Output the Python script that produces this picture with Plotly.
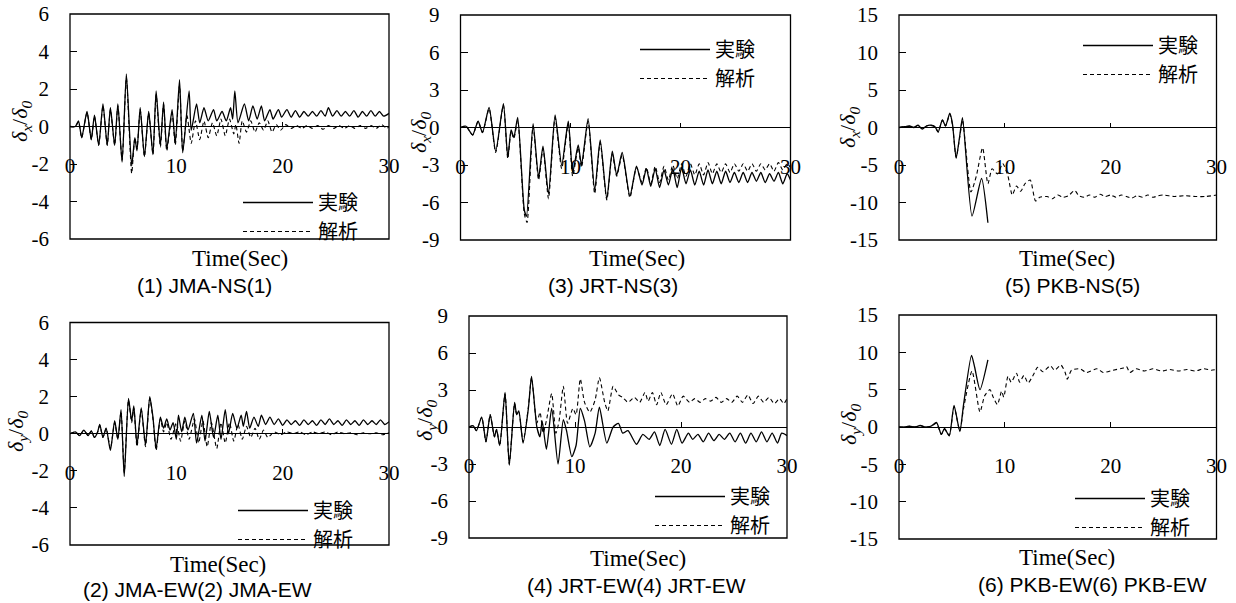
import plotly.graph_objects as go

W, H = 1236, 603

# ---------------- data (time in s, normalized displacement) ----------------
# (1) JMA-NS  δx/δ0
jma_ns_exp_t = [0, 0.5, 0.8, 1.1, 1.6, 2.0, 2.3, 2.7, 3.1, 3.5, 3.8, 4.2, 4.5, 4.9, 5.3, 5.8, 6.1, 6.3, 6.6, 7.0,
                7.4, 7.8, 8.1, 8.5, 8.8, 9.1, 9.6, 9.9, 10.3, 10.6, 11.2, 11.4, 11.9, 12.2, 12.6, 13.0, 13.5, 13.8,
                14.3, 14.7, 15.1, 15.3, 15.5, 15.8, 16.4, 16.8, 17.2, 17.6, 18.0, 18.3, 18.8, 19.1, 19.6, 19.9,
                20.4, 20.8, 21.2, 21.6, 22.0, 22.4, 22.8, 23.2, 23.6, 24.0, 24.3, 24.7, 25.1, 25.5, 25.9, 26.3,
                26.7, 27.1, 27.5, 27.9, 28.3, 28.7, 29.1, 29.5, 30.0]
jma_ns_exp_v = [0, 0.0, 0.3, -0.6, 0.8, -0.7, 0.6, -1.0, 1.2, -1.0, 1.0, -1.0, 1.2, -1.9, 2.8, -2.1, -0.6, -1.3, 1.0, -1.6,
                0.8, -1.5, 1.9, -1.0, 1.3, -1.2, 0.9, -0.9, 2.5, -1.4, 1.9, -0.2, 1.2, 0.2, 1.0, 0.3, 0.9, 0.3,
                0.8, 0.3, 1.0, 0.4, 1.9, 0.2, 1.2, 0.3, 1.1, 0.4, 1.1, 0.3, 0.9, 0.4, 0.9, 0.5,
                0.9, 0.5, 0.85, 0.5, 0.8, 0.55, 0.8, 0.55, 0.85, 0.55, 1.0, 0.55, 0.85, 0.55, 0.8, 0.55,
                0.85, 0.5, 0.8, 0.55, 0.85, 0.55, 0.8, 0.55, 0.7]
jma_ns_ana_t = [0, 0.5, 0.8, 1.1, 1.6, 2.0, 2.3, 2.7, 3.1, 3.5, 3.8, 4.2, 4.5, 4.9, 5.3, 5.8, 6.1, 6.3, 6.6, 7.0,
                7.4, 7.8, 8.1, 8.5, 8.8, 9.1, 9.6, 9.9, 10.3, 10.6, 11.0, 11.4, 11.8, 12.2, 12.6, 13.0, 13.4, 13.8,
                14.2, 14.6, 15.0, 15.4, 15.6, 15.9, 16.2, 16.6, 17.0, 17.4, 17.8, 18.2, 18.6, 19.0, 19.4, 19.8,
                20.3, 20.8, 21.3, 21.8, 22.3, 22.8, 23.3, 23.8, 24.3, 24.8, 25.3, 25.8, 26.3, 26.8, 27.3, 27.8,
                28.3, 28.8, 29.3, 29.8, 30.0]
jma_ns_ana_v = [0, 0.0, 0.25, -0.6, 0.75, -0.7, 0.55, -1.0, 1.1, -1.0, 0.9, -1.0, 1.1, -1.8, 2.6, -2.5, -0.6, -1.2, 0.9, -1.6,
                0.7, -1.5, 1.7, -1.1, 1.2, -1.3, 0.7, -1.0, 2.2, -1.3, 0.6, -0.9, 0.3, -0.7, 0.3, -0.6, 0.2, -0.5,
                0.4, -0.5, 0.4, -0.4, 0.1, -0.9, 0.3, -0.3, 0.3, -0.3, 0.2, -0.2, 0.3, -0.3, 0.1, -0.2,
                0.1, -0.1, 0.05, -0.1, 0.05, -0.1, 0.05, -0.15, 0.05, -0.1, 0.05, -0.1, 0.05, -0.1, 0.05, -0.1,
                0.05, -0.1, 0.1, -0.1, 0.0]

# (2) JMA-EW  δy/δ0
jma_ew_exp_t = [0, 0.5, 0.9, 1.3, 1.7, 2.0, 2.3, 2.6, 2.8, 3.1, 3.4, 3.8, 4.2, 4.5, 4.8, 5.1, 5.5, 5.8, 6.0, 6.3,
                6.7, 7.1, 7.5, 7.8, 8.1, 8.5, 8.8, 9.1, 9.4, 9.7, 10.0, 10.2, 10.5, 10.8, 11.1, 11.6, 11.9, 12.4,
                12.7, 13.1, 13.5, 13.9, 14.2, 14.6, 14.9, 15.3, 15.7, 16.1, 16.3, 16.6, 16.9, 17.3, 17.7, 18.0,
                18.4, 18.8, 19.2, 19.6, 20.0, 20.4, 20.8, 21.2, 21.6, 22.0, 22.4, 22.8, 23.2, 23.6, 24.0, 24.4,
                24.8, 25.2, 25.6, 26.0, 26.4, 26.8, 27.2, 27.6, 28.0, 28.4, 28.8, 29.2, 29.6, 30.0]
jma_ew_exp_v = [0, 0.1, -0.1, 0.2, -0.1, 0.15, -0.2, 0.1, 0.5, -0.2, 0.3, -0.9, 0.7, -0.3, 1.3, -2.3, 1.9, 0.7, 1.5, -0.6,
                1.4, -0.6, 2.0, 0.9, -0.8, 0.9, 0.3, 0.8, 0.2, 0.6, -0.3, 1.0, 0.1, 0.9, 0.2, 1.1, -0.5, 1.0,
                -0.4, 1.2, -0.2, 1.0, -0.3, 1.3, 0.0, 1.1, 0.3, 1.0, 0.4, 1.2, 0.3, 0.9, 0.4, 1.0,
                0.5, 0.9, 0.5, 0.8, 0.45, 0.75, 0.5, 0.7, 0.45, 0.75, 0.5, 0.7, 0.45, 0.75, 0.5, 0.8,
                0.5, 0.7, 0.45, 0.75, 0.5, 0.7, 0.45, 0.75, 0.5, 0.7, 0.5, 0.75, 0.5, 0.65]
jma_ew_ana_t = [0, 0.5, 0.9, 1.3, 1.7, 2.0, 2.3, 2.6, 2.8, 3.1, 3.4, 3.8, 4.2, 4.5, 4.8, 5.1, 5.5, 5.8, 6.0, 6.3,
                6.7, 7.1, 7.5, 7.8, 8.1, 8.5, 8.8, 9.1, 9.5, 10.0, 10.4, 10.8, 11.2, 11.7, 12.1, 12.5, 12.9, 13.3,
                13.8, 14.2, 14.6, 15.0, 15.4, 15.8, 16.2, 16.6, 17.0, 17.4, 17.8, 18.2, 18.6, 19.2, 19.8, 20.4,
                21.0, 21.6, 22.2, 22.8, 23.4, 24.0, 24.6, 25.2, 25.8, 26.4, 27.0, 27.6, 28.2, 28.8, 29.4, 30.0]
jma_ew_ana_v = [0, 0.1, -0.1, 0.2, -0.1, 0.15, -0.2, 0.1, 0.45, -0.2, 0.3, -0.8, 0.6, -0.3, 1.2, -2.1, 1.8, 0.6, 1.4, -0.7,
                1.3, -0.7, 1.9, 0.8, -0.9, 0.8, 0.1, 0.6, -0.3, 0.6, -0.4, 0.7, -0.3, 0.8, -0.5, 0.7, -0.7, 0.6,
                -0.8, 0.6, -0.5, 0.6, -0.4, 0.5, -0.3, 0.4, -0.2, 0.3, -0.3, 0.2, -0.2, 0.1, -0.05, 0.1,
                0.0, 0.1, -0.05, 0.1, 0.0, 0.1, -0.05, 0.1, 0.0, 0.05, -0.05, 0.05, 0.0, 0.05, -0.05, 0.05]

# (3) JRT-NS  δx/δ0
jrt_ns_exp_t = [0, 0.5, 1.1, 1.6, 2.0, 2.6, 3.2, 3.9, 4.3, 4.6, 4.85, 5.2, 5.8, 6.0, 6.6, 7.1, 7.5, 8.0, 8.6, 9.2,
                9.8, 10.2, 10.7, 11.0, 11.6, 12.2, 12.7, 13.3, 13.8, 14.2, 14.7, 15.4, 16.0, 16.5, 16.9, 17.3, 17.7,
                18.1, 18.5, 18.9, 19.3, 19.7, 20.1, 20.5, 20.9, 21.3, 21.7, 22.1, 22.5, 22.9, 23.3, 23.7, 24.1,
                24.5, 24.9, 25.3, 25.7, 26.1, 26.5, 26.9, 27.3, 27.7, 28.1, 28.5, 28.9, 29.3, 29.7, 30.0]
jrt_ns_exp_v = [0, 0.1, -0.6, 0.5, -0.4, 1.6, -1.9, 1.9, -2.4, -0.2, -0.8, 0.8, -6.6, -7.1, 0.3, -4.0, -1.5, -5.3, 1.0, -3.0,
                0.5, -3.6, -1.4, -3.0, 0.7, -5.0, -1.0, -5.7, -1.9, -3.8, -2.0, -5.5, -3.1, -4.6, -3.3, -4.7, -3.3,
                -4.8, -3.4, -4.6, -3.3, -4.8, -3.2, -4.5, -3.4, -4.6, -3.5, -4.6, -3.4, -4.5, -3.5, -4.5, -3.5,
                -4.4, -3.6, -4.4, -3.6, -4.4, -3.6, -4.3, -3.6, -4.4, -3.7, -4.3, -3.6, -4.5, -3.7, -4.2]
jrt_ns_ana_t = [0, 0.5, 1.1, 1.6, 2.0, 2.6, 3.2, 3.9, 4.3, 4.6, 4.85, 5.2, 5.8, 6.05, 6.6, 7.1, 7.5, 8.0, 8.6, 9.2,
                9.8, 10.2, 10.7, 11.0, 11.6, 12.2, 12.7, 13.3, 13.8, 14.2, 14.7, 15.4, 16.0, 16.5, 16.9, 17.3, 17.7,
                18.1, 18.5, 18.9, 19.3, 19.7, 20.1, 20.5, 20.9, 21.3, 21.7, 22.1, 22.5, 22.9, 23.3, 23.7, 24.1,
                24.5, 24.9, 25.3, 25.7, 26.1, 26.5, 26.9, 27.3, 27.7, 28.1, 28.5, 28.9, 29.3, 29.7, 30.0]
jrt_ns_ana_v = [0, 0.1, -0.6, 0.5, -0.4, 1.5, -2.0, 1.8, -2.5, -0.3, -0.9, 0.6, -6.9, -7.6, 0.1, -4.2, -1.7, -5.7, 0.8, -3.3,
                0.3, -3.9, -1.6, -3.2, 0.5, -5.3, -1.2, -5.8, -2.1, -3.9, -2.2, -5.6, -3.2, -4.4, -3.2, -4.5, -3.1,
                -4.4, -3.1, -4.2, -3.0, -4.1, -2.9, -3.9, -2.9, -3.8, -2.9, -3.8, -2.8, -3.7, -2.9, -3.6, -2.9,
                -3.6, -2.9, -3.5, -2.9, -3.5, -2.9, -3.5, -2.9, -3.4, -2.9, -3.5, -2.8, -3.4, -2.9, -3.2]

# (4) JRT-EW  δy/δ0
jrt_ew_exp_t = [0, 0.4, 0.7, 1.2, 1.6, 2.0, 2.4, 2.6, 2.9, 3.4, 3.8, 4.3, 4.5, 4.7, 5.1, 5.6, 5.9, 6.4, 6.7, 6.9,
                7.3, 7.8, 8.4, 8.9, 9.2, 9.7, 10.1, 10.5, 10.9, 11.4, 11.9, 12.3, 13.0, 13.6, 14.1, 14.5, 15.0,
                15.8, 16.4, 17.0, 17.5, 18.0, 18.5, 19.1, 19.6, 20.1, 20.7, 21.1, 21.6, 22.1, 22.6, 23.1, 23.6,
                24.1, 24.6, 25.1, 25.6, 26.1, 26.6, 27.1, 27.6, 28.1, 28.6, 29.1, 29.5, 30.0]
jrt_ew_exp_v = [0, 0.1, -0.3, 0.8, -1.2, 1.0, -0.8, -0.2, -1.5, 2.8, -3.1, 2.0, 1.0, 1.3, -1.3, 1.5, 4.1, 0.0, -0.8, 0.5,
                -1.8, 1.5, -3.0, 0.6, -0.3, -2.4, -1.5, 1.5, 0.5, -1.6, -0.5, 1.6, -1.3, 0.0, 0.3, -0.5, -0.3,
                -1.4, -0.6, -1.0, -0.4, -1.5, -0.2, -1.4, -0.2, -1.3, -0.5, -1.0, -0.6, -1.2, -0.5, -1.1, -0.6,
                -1.0, -0.5, -1.2, -0.5, -1.3, -0.5, -1.2, -0.4, -1.2, -0.5, -1.3, -0.5, -0.7]
jrt_ew_ana_t = [0, 0.4, 0.7, 1.2, 1.6, 2.0, 2.4, 2.6, 2.9, 3.4, 3.8, 4.3, 4.5, 4.7, 5.1, 5.6, 5.9, 6.4, 6.7, 7.0,
                7.3, 7.8, 8.2, 8.5, 8.9, 9.3, 9.8, 10.1, 10.5, 10.9, 11.4, 11.9, 12.3, 12.8, 13.1, 13.6, 14.1,
                14.5, 15.0, 15.6, 16.1, 16.6, 16.9, 17.3, 17.7, 18.1, 18.6, 19.2, 19.7, 20.2, 20.8, 21.3, 21.8,
                22.3, 22.8, 23.3, 23.8, 24.3, 24.8, 25.3, 25.8, 26.3, 26.8, 27.3, 27.8, 28.3, 28.8, 29.3, 29.7, 30.0]
jrt_ew_ana_v = [0, 0.1, -0.3, 0.8, -1.2, 1.0, -0.8, -0.2, -1.5, 2.7, -3.0, 1.9, 1.0, 1.2, -1.2, 1.6, 4.0, 0.3, 1.2, -0.5,
                0.5, 2.7, -0.5, 0.5, 3.3, 0.3, 1.5, 1.0, 3.9, 2.0, 1.2, 2.2, 4.0, 2.0, 1.3, 3.3, 2.6,
                2.4, 2.0, 2.4, 2.0, 2.8, 2.1, 2.8, 1.8, 2.8, 1.8, 2.7, 1.7, 2.5, 2.0, 2.3, 2.0,
                2.3, 2.1, 2.4, 2.0, 2.3, 2.0, 2.5, 2.0, 2.6, 1.9, 2.5, 2.0, 2.4, 1.9, 2.3, 1.9, 2.3]

# (5) PKB-NS  δx/δ0
pkb_ns_exp_t = [0, 0.5, 1.0, 1.4, 1.8, 2.2, 2.6, 3.0, 3.4, 3.7, 4.1, 4.4, 4.8, 5.05, 5.4, 5.75, 6.0, 6.9, 7.8, 8.4]
pkb_ns_exp_v = [0, 0.1, 0.2, 0.0, 0.3, -0.2, 0.2, 0.3, 0.1, -0.6, 1.0, 0.2, 1.9, 0.5, -4.1, -1.0, 1.3, -11.8, -6.8, -12.7]
pkb_ns_ana_t = [0, 0.5, 1.0, 1.4, 1.8, 2.2, 2.6, 3.0, 3.4, 3.7, 4.1, 4.4, 4.8, 5.05, 5.4, 5.75, 6.0, 6.8, 7.3, 7.9,
                8.4, 8.8, 9.3, 9.8, 10.3, 10.7, 11.1, 11.5, 11.9, 12.4, 12.9, 13.3, 14.0, 14.5, 15.0, 15.5, 16.0,
                16.6, 17.0, 17.5, 18.0, 18.5, 19.0, 19.5, 20.0, 20.5, 21.0, 21.5, 22.0, 22.5, 23.0, 23.5, 24.0,
                24.5, 25.0, 26.0, 27.0, 28.0, 29.0, 30.0]
pkb_ns_ana_v = [0, 0.1, 0.15, 0.0, 0.25, -0.2, 0.2, 0.3, 0.1, -0.6, 1.0, 0.2, 1.8, 0.4, -4.0, -1.2, 1.0, -8.6, -6.5, -2.7,
                -7.5, -5.5, -6.2, -4.8, -6.5, -9.0, -7.8, -8.5, -7.5, -7.0, -9.8, -9.3, -9.2, -9.5, -9.0, -9.3, -9.1,
                -8.4, -9.1, -9.3, -9.0, -9.3, -8.9, -9.2, -9.0, -9.3, -9.0, -9.2, -9.4, -9.1, -9.3, -9.0, -9.3,
                -9.1, -9.0, -9.2, -9.1, -9.2, -9.2, -9.0]

# (6) PKB-EW  δy/δ0
pkb_ew_exp_t = [0, 0.5, 1.0, 1.5, 2.0, 2.5, 3.0, 3.55, 4.0, 4.3, 4.75, 5.2, 5.75, 6.1, 6.85, 7.15, 7.65, 8.4]
pkb_ew_exp_v = [0, 0.0, 0.1, 0.0, 0.2, 0.0, 0.1, 0.6, -1.0, -0.2, -1.2, 2.9, -0.6, 3.0, 9.6, 8.0, 5.0, 9.0]
pkb_ew_ana_t = [0, 0.5, 1.0, 1.5, 2.0, 2.5, 3.0, 3.55, 4.0, 4.3, 4.75, 5.2, 5.75, 6.1, 6.9, 7.65, 8.1, 8.6, 8.9, 9.3,
                9.7, 9.9, 10.3, 10.6, 11.1, 11.4, 11.8, 12.2, 12.7, 13.1, 13.6, 14.3, 14.7, 15.3, 15.7, 15.9, 16.3,
                17.1, 17.7, 18.7, 19.3, 20.2, 21.2, 21.5, 21.8, 22.4, 23.2, 24.0, 24.8, 25.6, 26.4, 27.2, 28.0,
                28.8, 29.5, 30.0]
pkb_ew_ana_v = [0, 0.0, 0.1, 0.0, 0.2, 0.0, 0.1, 0.5, -1.0, -0.3, -1.1, 2.7, -0.5, 2.5, 7.5, 2.0, 4.2, 5.0, 4.0, 3.0,
                4.8, 4.0, 6.8, 6.0, 7.2, 6.0, 6.9, 5.9, 7.0, 8.0, 7.4, 8.2, 7.6, 8.3, 7.3, 6.4, 7.6,
                7.8, 7.3, 7.8, 7.3, 7.6, 7.9, 8.1, 7.3, 7.8, 7.5, 7.8, 7.5, 7.7, 7.5, 7.7, 7.5,
                7.8, 7.6, 7.7]

x_ticks = [0, 10, 20, 30]
legend_names = ["実験", "解析"]

# ---------------- layout helpers ----------------
SERIF = "Liberation Serif"
SANS = "Liberation Sans"
CJK = "Noto Sans CJK JP"


def px(x):
    return x / W


def py(y):
    return 1 - y / H


panels = [
    dict(box=(70, 14, 389, 239), yr=6, dt=2, comp="x", exp=(jma_ns_exp_t, jma_ns_exp_v), ana=(jma_ns_ana_t, jma_ns_ana_v),
         cap="(1) JMA-NS(1)", cap_xy=(204, 285), time_xy=(240, 258), ytit_xy=(21, 122), leg=(246, 199)),
    dict(box=(70, 322.5, 389, 545), yr=6, dt=2, comp="y", exp=(jma_ew_exp_t, jma_ew_exp_v), ana=(jma_ew_ana_t, jma_ew_ana_v),
         cap="(2) JMA-EW(2) JMA-EW", cap_xy=(197, 589), time_xy=(218, 564), ytit_xy=(17, 432), leg=(241, 507)),
    dict(box=(460.5, 15, 790.5, 240), yr=9, dt=3, comp="x", exp=(jrt_ns_exp_t, jrt_ns_exp_v), ana=(jrt_ns_ana_t, jrt_ns_ana_v),
         cap="(3) JRT-NS(3)", cap_xy=(613, 285), time_xy=(637, 258), ytit_xy=(420, 133), leg=(643, 46)),
    dict(box=(469, 316, 787, 538), yr=9, dt=3, comp="y", exp=(jrt_ew_exp_t, jrt_ew_exp_v), ana=(jrt_ew_ana_t, jrt_ew_ana_v),
         cap="(4) JRT-EW(4) JRT-EW", cap_xy=(636, 585), time_xy=(638, 558), ytit_xy=(426, 421), leg=(658, 493)),
    dict(box=(899, 15, 1216.5, 240), yr=15, dt=5, comp="x", exp=(pkb_ns_exp_t, pkb_ns_exp_v), ana=(pkb_ns_ana_t, pkb_ns_ana_v),
         cap="(5) PKB-NS(5)", cap_xy=(1072, 285), time_xy=(1067, 258), ytit_xy=(849, 128), leg=(1086, 42)),
    dict(box=(899, 315, 1216.5, 539), yr=15, dt=5, comp="y", exp=(pkb_ew_exp_t, pkb_ew_exp_v), ana=(pkb_ew_ana_t, pkb_ew_ana_v),
         cap="(6) PKB-EW(6) PKB-EW", cap_xy=(1092, 584), time_xy=(1067, 557), ytit_xy=(850, 425), leg=(1078, 495)),
]

fig = go.Figure()
layout = dict(template="none", width=W, height=H, margin=dict(l=0, r=0, t=0, b=0, pad=0, autoexpand=False),
              paper_bgcolor="white", plot_bgcolor="white", showlegend=True, annotations=[], shapes=[])

for i, p in enumerate(panels, start=1):
    sfx = "" if i == 1 else str(i)
    xa, ya = "x" + sfx, "y" + sfx
    lg = "legend" + sfx
    x0, y0, x1, y1 = p["box"]
    yr, dt = p["yr"], p["dt"]
    yvals = list(range(-yr, yr + 1, dt))

    fig.add_trace(go.Scatter(x=p["ana"][0], y=p["ana"][1], mode="lines", name=legend_names[1],
                             line=dict(color="black", width=1.1, dash="4px,3px", shape="spline", smoothing=0.6),
                             xaxis=xa, yaxis=ya, legend=lg, legendrank=2, hoverinfo="skip"))
    fig.add_trace(go.Scatter(x=p["exp"][0], y=p["exp"][1], mode="lines", name=legend_names[0],
                             line=dict(color="black", width=1.3, shape="spline", smoothing=0.6),
                             xaxis=xa, yaxis=ya, legend=lg, legendrank=1, hoverinfo="skip"))

    zero_y = py((y0 + y1) / 2)
    layout["xaxis" + sfx] = dict(domain=[px(x0), px(x1)], anchor="free", position=zero_y, range=[0, 30],
                                 tickvals=x_ticks, ticktext=[str(v) for v in x_ticks], ticks="inside", ticklen=5,
                                 tickcolor="black", showgrid=False, zeroline=False, showline=False, automargin=False,
                                 tickfont=dict(family=SERIF, size=21, color="black"), ticklabelstandoff=24)
    layout["yaxis" + sfx] = dict(domain=[py(y1), py(y0)], anchor=xa, range=[-yr, yr], tickvals=yvals,
                                 ticktext=[("-" + str(-v)) if v < 0 else str(v) for v in yvals],
                                 ticks="inside", ticklen=7, tickcolor="black", showgrid=False, automargin=False,
                                 zeroline=True, zerolinecolor="black", zerolinewidth=1.3, showline=False,
                                 tickfont=dict(family=SERIF, size=21, color="black"), ticklabelstandoff=20)
    layout["shapes"].append(dict(type="rect", xref=xa + " domain", yref=ya + " domain", x0=0, x1=1, y0=0, y1=1,
                                 line=dict(color="black", width=1.3), layer="above"))
    layout[lg] = dict(x=px(p["leg"][0] - 8), y=py(p["leg"][1] - 16), xanchor="left", yanchor="top",
                      bgcolor="rgba(0,0,0,0)", borderwidth=0, itemwidth=70, tracegroupgap=0,
                      font=dict(family=CJK, size=20, color="black"))
    comp = p["comp"]
    layout["annotations"] += [
        dict(text="Time(Sec)", x=px(p["time_xy"][0]), y=py(p["time_xy"][1]), xref="paper", yref="paper",
             showarrow=False, xanchor="center", yanchor="middle", font=dict(family=SERIF, size=23, color="black")),
        dict(text=p["cap"], x=px(p["cap_xy"][0]), y=py(p["cap_xy"][1]), xref="paper", yref="paper",
             showarrow=False, xanchor="center", yanchor="middle", font=dict(family=SANS, size=21, color="black")),
        dict(text="<i>δ<sub>%s</sub></i>/<i>δ<sub>0</sub></i>" % comp, x=px(p["ytit_xy"][0]), y=py(p["ytit_xy"][1]),
             xref="paper", yref="paper", showarrow=False, textangle=-90, xanchor="center", yanchor="middle",
             font=dict(family=SERIF, size=22, color="black")),
    ]

fig.update_layout(**layout)
# remove the browser's default page margin so the figure sits at the window's top-left corner
fig.write_html("out.html", config={"displayModeBar": False},
               post_script="document.body.style.margin='0px';document.body.style.overflow='hidden';")
